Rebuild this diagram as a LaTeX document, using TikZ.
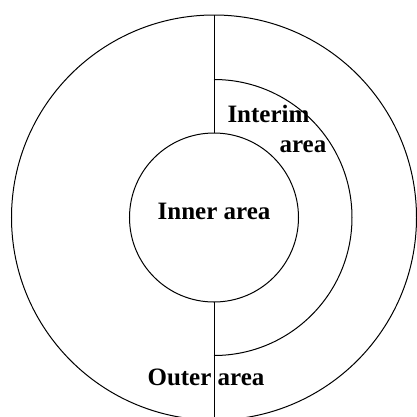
\documentclass[tikz,border=0pt]{standalone}
\usepackage{fontspec}
\setmainfont{Liberation Serif}
\usepackage{tikz}
\usetikzlibrary{positioning, calc}

\tikzset{
  ring/.style={draw, circle, line width=1pt, inner sep=0pt, outer sep=0pt},
  areatxt/.style={inner sep=0pt, font=\fontsize{25}{30}\selectfont\bfseries}
}

\begin{document}
\begin{tikzpicture}[x=1pt, y=1pt, line width=1pt]
        \clip (-214,-198.5) rectangle (203,217.5);
        \useasboundingbox (-214,-198.5) rectangle (203,217.5);
        \node[ring, minimum size=405pt] (outer) at (0,0) {};
        \node[ring, minimum size=169pt] (inner) at (0,0) {};
        \coordinate (interimtop) at (0,138);
        \draw (interimtop) arc[start angle=90, end angle=-90, radius=138];
        \draw (outer.north) -- (inner.north);
        \draw (inner.south) -- (outer.south);
        \node[areatxt, anchor=base] (innertxt) at (0,-1.5) {Inner area};
        \node[areatxt, anchor=base west] (interimtxt) at (13,95.5) {Interim};
        \node[areatxt, anchor=base west] (interimtxt2) at (65,65.5) {area};
        \node[areatxt, anchor=base] (outertxt) at (-8,-167.5) {Outer area};
      \end{tikzpicture}
\end{document}
